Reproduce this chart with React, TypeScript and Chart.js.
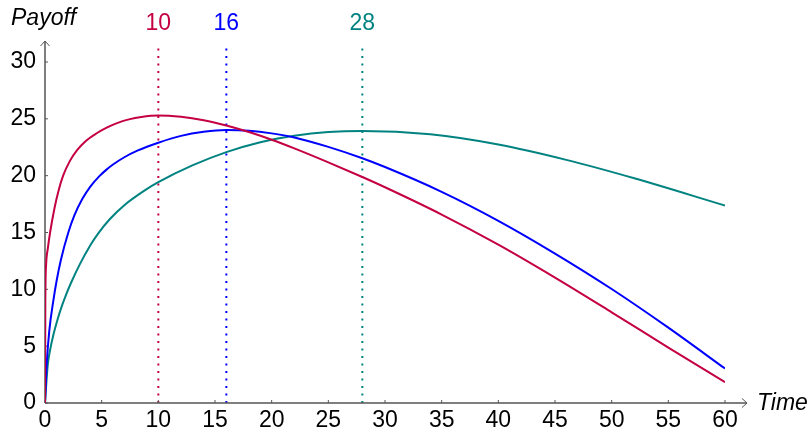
import React, { useEffect, useRef } from "react";
import { Chart, registerables } from "chart.js";

Chart.register(...registerables);

// ---- data ----
const crimsonTime = [0, 0.03, 0.1, 0.25, 0.45, 0.85, 1.2, 1.6, 2.2, 2.85, 3.6, 4.56, 5.4, 6.3, 7.4, 8.5, 10, 12, 14, 16, 18, 20, 22, 25, 28, 30, 35, 40, 45, 50, 55, 60];
const crimsonPayoff = [0, 9, 12.2, 13.6, 15, 17.2, 18.7, 20, 21.3, 22.26, 23.05, 23.73, 24.2, 24.6, 24.95, 25.17, 25.3, 25.18, 24.88, 24.42, 23.84, 23.16, 22.4, 21.17, 19.88, 18.98, 16.58, 13.93, 11.03, 7.98, 4.88, 1.83];

const blueTime = [0, 0.15, 0.38, 0.74, 1.03, 1.4, 2.05, 2.6, 3.3, 4.0, 4.8, 5.4, 6, 7, 8.2, 10, 12, 14, 16, 18, 20, 22, 25, 28, 30, 35, 40, 45, 50, 55, 60];
const bluePayoff = [0, 3.45, 6.37, 9.03, 10.78, 12.58, 14.98, 16.52, 17.96, 19.04, 19.96, 20.51, 20.98, 21.62, 22.22, 22.9, 23.5, 23.86, 24.02, 23.95, 23.72, 23.36, 22.53, 21.53, 20.76, 18.58, 16.03, 13.15, 10.03, 6.63, 3.03];

const tealTime = [0, 0.24, 0.44, 0.74, 1.1, 1.5, 1.82, 2.3, 3.09, 4.0, 4.7, 5.73, 7.05, 8.8, 10, 13, 16, 19, 22, 25, 28, 34, 40, 46, 52, 60];
const tealPayoff = [0, 3.32, 4.62, 6.0, 7.33, 8.57, 9.43, 10.58, 12.24, 13.88, 14.93, 16.19, 17.45, 18.71, 19.43, 20.9, 22.07, 22.94, 23.51, 23.84, 23.94, 23.64, 22.74, 21.39, 19.77, 17.37];

const peakTimes = [10, 16, 28];
const peakLabels = ["10", "16", "28"];
const seriesColors = ["#C40042", "#0000FF", "#008380"];

const xTicks = [0, 5, 10, 15, 20, 25, 30, 35, 40, 45, 50, 55, 60];
const yTicks = [0, 5, 10, 15, 20, 25, 30];

const xTitle = "Time";
const yTitle = "Payoff";

const FONT = "'Liberation Sans', Arial, Helvetica, sans-serif";
const FS = 23;

function toPoints(xs: number[], ys: number[]) {
  return xs.map((x, i) => ({ x, y: ys[i] }));
}

const overlayPlugin = {
  id: "overlay",
  beforeDatasetsDraw(chart: any) {
    const ctx = chart.ctx;
    const xs = chart.scales.x;
    const ys = chart.scales.y;
    const x0 = xs.getPixelForValue(0);
    const y0 = ys.getPixelForValue(0);
    const xEnd = xs.getPixelForValue(60);
    const yTop = ys.getPixelForValue(30);
    ctx.save();
    peakTimes.forEach((t, i) => {
      const px = xs.getPixelForValue(t);
      ctx.beginPath();
      ctx.setLineDash([2, 5.5]);
      ctx.lineWidth = 2;
      ctx.strokeStyle = seriesColors[i];
      ctx.moveTo(px, y0);
      ctx.lineTo(px, yTop - 19);
      ctx.stroke();
    });
    ctx.setLineDash([]);
    ctx.strokeStyle = "#555";
    ctx.lineWidth = 1.5;
    ctx.beginPath();
    ctx.moveTo(x0, y0);
    ctx.lineTo(xEnd + 22, y0);
    ctx.moveTo(x0, y0);
    ctx.lineTo(x0, yTop - 21);
    ctx.stroke();
    ctx.lineWidth = 1;
    ctx.beginPath();
    ctx.moveTo(xEnd + 17, y0 - 4.5);
    ctx.lineTo(xEnd + 22, y0);
    ctx.lineTo(xEnd + 17, y0 + 4.5);
    ctx.moveTo(x0 - 4.5, yTop - 16);
    ctx.lineTo(x0, yTop - 21);
    ctx.lineTo(x0 + 4.5, yTop - 16);
    ctx.stroke();
    ctx.beginPath();
    xTicks.forEach((t) => {
      const px = xs.getPixelForValue(t);
      ctx.moveTo(px, y0);
      ctx.lineTo(px, y0 - 3);
    });
    yTicks.forEach((v) => {
      const py = ys.getPixelForValue(v);
      ctx.moveTo(x0, py);
      ctx.lineTo(x0 + 3, py);
    });
    ctx.stroke();
    ctx.restore();
  },
  afterDraw(chart: any) {
    const ctx = chart.ctx;
    const xs = chart.scales.x;
    const ys = chart.scales.y;
    const y0 = ys.getPixelForValue(0);
    const xEnd = xs.getPixelForValue(60);
    ctx.save();
    ctx.font = `${FS}px ${FONT}`;
    ctx.textAlign = "center";
    ctx.textBaseline = "alphabetic";
    peakTimes.forEach((t, i) => {
      ctx.fillStyle = seriesColors[i];
      ctx.fillText(peakLabels[i], xs.getPixelForValue(t), 29.5);
    });
    ctx.fillStyle = "#000";
    ctx.font = `italic ${FS}px ${FONT}`;
    ctx.textAlign = "left";
    ctx.fillText(yTitle, 11, 25);
    ctx.textBaseline = "middle";
    ctx.fillText(xTitle, xEnd + 32, y0 + 1);
    ctx.restore();
  },
};

export default function App() {
  const ref = useRef<HTMLCanvasElement | null>(null);
  useEffect(() => {
    if (!ref.current) return;
    const chart = new Chart(ref.current, {
      type: "line",
      data: {
        datasets: [
          { data: toPoints(crimsonTime, crimsonPayoff), borderColor: seriesColors[0] },
          { data: toPoints(blueTime, bluePayoff), borderColor: seriesColors[1] },
          { data: toPoints(tealTime, tealPayoff), borderColor: seriesColors[2] },
        ].map((d) => ({
          ...d,
          borderWidth: 2,
          pointRadius: 0,
          fill: false,
          cubicInterpolationMode: "monotone" as const,
        })),
      },
      options: {
        animation: false,
        responsive: false,
        devicePixelRatio: 1,
        layout: { padding: { top: 62, right: 87, left: 0, bottom: 0 } },
        plugins: { legend: { display: false }, tooltip: { enabled: false } },
        scales: {
          x: {
            type: "linear",
            min: 0,
            max: 60,
            grid: { display: false, drawTicks: false },
            border: { display: false },
            ticks: {
              stepSize: 5,
              padding: 4,
              color: "#000",
              font: { size: FS, family: FONT },
              maxRotation: 0,
            },
            afterFit: (s: any) => {
              s.height = 30;
            },
          },
          y: {
            type: "linear",
            min: 0,
            max: 30,
            grid: { display: false, drawTicks: false },
            border: { display: false },
            ticks: {
              stepSize: 5,
              padding: 9,
              color: "#000",
              font: { size: FS, family: FONT },
            },
            afterFit: (s: any) => {
              s.width = 45;
            },
          },
        },
      },
      plugins: [overlayPlugin],
    });
    return () => chart.destroy();
  }, []);
  return (
    <div style={{ position: "absolute", left: 0, top: 0, width: 812, height: 433, background: "#fff" }}>
      <canvas ref={ref} width={812} height={433} />
    </div>
  );
}
